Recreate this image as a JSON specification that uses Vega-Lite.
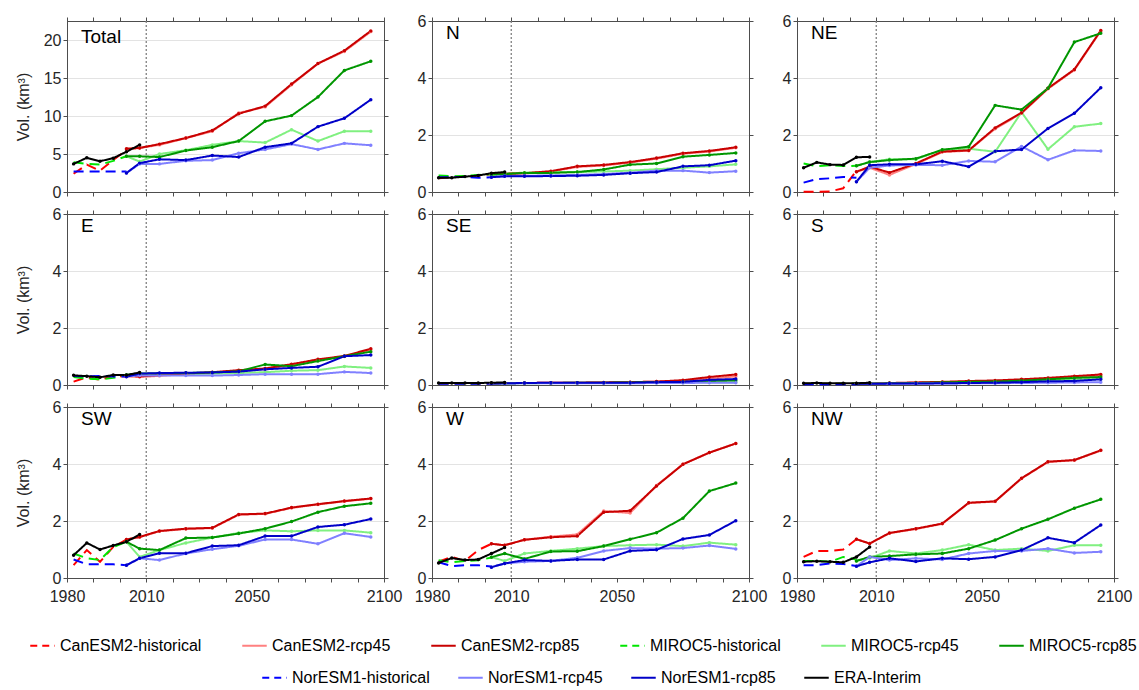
{
"$schema": "https://vega.github.io/schema/vega-lite/v6.json",
"padding": {"left": 14, "top": 12, "right": 5, "bottom": 5},
"bounds": "flush",
"columns": 3,
"spacing": {"row": 22, "column": 48},
"config": {
  "font": "Liberation Sans",
  "scale": {"zero": false},
  "view": {"stroke": "#4d4d4d"},
  "axis": {"labelFontSize": 16, "labelColor": "#262626", "domainColor": "#4d4d4d", "tickColor": "#4d4d4d", "tickSize": 4, "gridColor": "#e3e3e3", "titleFontSize": 16, "titleFontWeight": "normal", "titleColor": "#262626", "labelPadding": 2},
  "axisBottom": {"labelPadding": 6},
  "title": {"anchor": "start", "frame": "group", "offset": -30, "dx": 14, "fontSize": 19, "fontWeight": "normal", "color": "#000000"},
  "legend": {"title": null, "symbolType": "stroke", "symbolSize": 600, "symbolStrokeWidth": 2, "labelFontSize": 16, "labelColor": "#000000", "direction": "horizontal", "orient": "none"}
},
"datasets": {
"ref": [{"year": 2010}],
"Total": [
{"series":"CanESM2-historical","year":1982.5,"vol":2.4},{"series":"CanESM2-historical","year":1987.5,"vol":3.6},{"series":"CanESM2-historical","year":1992.5,"vol":2.8},{"series":"CanESM2-historical","year":1997.5,"vol":4.2},{"series":"CanESM2-historical","year":2002.5,"vol":5.5},
{"series":"MIROC5-historical","year":1982.5,"vol":3.9},{"series":"MIROC5-historical","year":1987.5,"vol":3.7},{"series":"MIROC5-historical","year":1992.5,"vol":3.6},{"series":"MIROC5-historical","year":1997.5,"vol":4.1},{"series":"MIROC5-historical","year":2002.5,"vol":4.7},
{"series":"NorESM1-historical","year":1982.5,"vol":2.7},{"series":"NorESM1-historical","year":1987.5,"vol":2.7},{"series":"NorESM1-historical","year":1992.5,"vol":2.7},{"series":"NorESM1-historical","year":1997.5,"vol":2.7},{"series":"NorESM1-historical","year":2002.5,"vol":2.7},
{"series":"CanESM2-rcp45","year":2002.5,"vol":5.6},{"series":"CanESM2-rcp45","year":2007.5,"vol":5.8},{"series":"CanESM2-rcp45","year":2015,"vol":6.2},{"series":"CanESM2-rcp45","year":2025,"vol":7.1},{"series":"CanESM2-rcp45","year":2035,"vol":8.0},{"series":"CanESM2-rcp45","year":2045,"vol":10.4},{"series":"CanESM2-rcp45","year":2055,"vol":11.2},{"series":"CanESM2-rcp45","year":2065,"vol":14.1},{"series":"CanESM2-rcp45","year":2075,"vol":16.9},{"series":"CanESM2-rcp45","year":2085,"vol":18.5},{"series":"CanESM2-rcp45","year":2095,"vol":21.1},
{"series":"MIROC5-rcp45","year":2002.5,"vol":4.7},{"series":"MIROC5-rcp45","year":2007.5,"vol":4.0},{"series":"MIROC5-rcp45","year":2015,"vol":5.0},{"series":"MIROC5-rcp45","year":2025,"vol":5.5},{"series":"MIROC5-rcp45","year":2035,"vol":6.2},{"series":"MIROC5-rcp45","year":2045,"vol":6.7},{"series":"MIROC5-rcp45","year":2055,"vol":6.5},{"series":"MIROC5-rcp45","year":2065,"vol":8.2},{"series":"MIROC5-rcp45","year":2075,"vol":6.7},{"series":"MIROC5-rcp45","year":2085,"vol":8.0},{"series":"MIROC5-rcp45","year":2095,"vol":8.0},
{"series":"NorESM1-rcp45","year":2002.5,"vol":2.5},{"series":"NorESM1-rcp45","year":2007.5,"vol":3.7},{"series":"NorESM1-rcp45","year":2015,"vol":3.7},{"series":"NorESM1-rcp45","year":2025,"vol":4.1},{"series":"NorESM1-rcp45","year":2035,"vol":4.2},{"series":"NorESM1-rcp45","year":2045,"vol":5.1},{"series":"NorESM1-rcp45","year":2055,"vol":5.6},{"series":"NorESM1-rcp45","year":2065,"vol":6.3},{"series":"NorESM1-rcp45","year":2075,"vol":5.6},{"series":"NorESM1-rcp45","year":2085,"vol":6.4},{"series":"NorESM1-rcp45","year":2095,"vol":6.15},
{"series":"CanESM2-rcp85","year":2002.5,"vol":5.7},{"series":"CanESM2-rcp85","year":2007.5,"vol":5.8},{"series":"CanESM2-rcp85","year":2015,"vol":6.3},{"series":"CanESM2-rcp85","year":2025,"vol":7.1},{"series":"CanESM2-rcp85","year":2035,"vol":8.1},{"series":"CanESM2-rcp85","year":2045,"vol":10.3},{"series":"CanESM2-rcp85","year":2055,"vol":11.3},{"series":"CanESM2-rcp85","year":2065,"vol":14.2},{"series":"CanESM2-rcp85","year":2075,"vol":16.9},{"series":"CanESM2-rcp85","year":2085,"vol":18.6},{"series":"CanESM2-rcp85","year":2095,"vol":21.2},
{"series":"MIROC5-rcp85","year":2002.5,"vol":4.7},{"series":"MIROC5-rcp85","year":2007.5,"vol":4.7},{"series":"MIROC5-rcp85","year":2015,"vol":4.6},{"series":"MIROC5-rcp85","year":2025,"vol":5.45},{"series":"MIROC5-rcp85","year":2035,"vol":5.9},{"series":"MIROC5-rcp85","year":2045,"vol":6.7},{"series":"MIROC5-rcp85","year":2055,"vol":9.3},{"series":"MIROC5-rcp85","year":2065,"vol":10.05},{"series":"MIROC5-rcp85","year":2075,"vol":12.5},{"series":"MIROC5-rcp85","year":2085,"vol":16.0},{"series":"MIROC5-rcp85","year":2095,"vol":17.2},
{"series":"NorESM1-rcp85","year":2002.5,"vol":2.5},{"series":"NorESM1-rcp85","year":2007.5,"vol":3.8},{"series":"NorESM1-rcp85","year":2015,"vol":4.3},{"series":"NorESM1-rcp85","year":2025,"vol":4.2},{"series":"NorESM1-rcp85","year":2035,"vol":4.8},{"series":"NorESM1-rcp85","year":2045,"vol":4.6},{"series":"NorESM1-rcp85","year":2055,"vol":5.9},{"series":"NorESM1-rcp85","year":2065,"vol":6.4},{"series":"NorESM1-rcp85","year":2075,"vol":8.6},{"series":"NorESM1-rcp85","year":2085,"vol":9.7},{"series":"NorESM1-rcp85","year":2095,"vol":12.15},
{"series":"ERA-Interim","year":1982.5,"vol":3.7},{"series":"ERA-Interim","year":1987.5,"vol":4.5},{"series":"ERA-Interim","year":1992.5,"vol":4.05},{"series":"ERA-Interim","year":1997.5,"vol":4.45},{"series":"ERA-Interim","year":2002.5,"vol":5.3},{"series":"ERA-Interim","year":2007.5,"vol":6.2}
],
"N": [
{"series":"CanESM2-historical","year":1982.5,"vol":0.48},{"series":"CanESM2-historical","year":1987.5,"vol":0.52},{"series":"CanESM2-historical","year":1992.5,"vol":0.55},{"series":"CanESM2-historical","year":1997.5,"vol":0.57},{"series":"CanESM2-historical","year":2002.5,"vol":0.62},
{"series":"MIROC5-historical","year":1982.5,"vol":0.58},{"series":"MIROC5-historical","year":1987.5,"vol":0.55},{"series":"MIROC5-historical","year":1992.5,"vol":0.56},{"series":"MIROC5-historical","year":1997.5,"vol":0.6},{"series":"MIROC5-historical","year":2002.5,"vol":0.62},
{"series":"NorESM1-historical","year":1982.5,"vol":0.52},{"series":"NorESM1-historical","year":1987.5,"vol":0.52},{"series":"NorESM1-historical","year":1992.5,"vol":0.53},{"series":"NorESM1-historical","year":1997.5,"vol":0.5},{"series":"NorESM1-historical","year":2002.5,"vol":0.52},
{"series":"CanESM2-rcp45","year":2002.5,"vol":0.62},{"series":"CanESM2-rcp45","year":2007.5,"vol":0.63},{"series":"CanESM2-rcp45","year":2015,"vol":0.65},{"series":"CanESM2-rcp45","year":2025,"vol":0.72},{"series":"CanESM2-rcp45","year":2035,"vol":0.88},{"series":"CanESM2-rcp45","year":2045,"vol":0.93},{"series":"CanESM2-rcp45","year":2055,"vol":1.03},{"series":"CanESM2-rcp45","year":2065,"vol":1.17},{"series":"CanESM2-rcp45","year":2075,"vol":1.34},{"series":"CanESM2-rcp45","year":2085,"vol":1.42},{"series":"CanESM2-rcp45","year":2095,"vol":1.55},
{"series":"MIROC5-rcp45","year":2002.5,"vol":0.6},{"series":"MIROC5-rcp45","year":2007.5,"vol":0.65},{"series":"MIROC5-rcp45","year":2015,"vol":0.68},{"series":"MIROC5-rcp45","year":2025,"vol":0.7},{"series":"MIROC5-rcp45","year":2035,"vol":0.7},{"series":"MIROC5-rcp45","year":2045,"vol":0.72},{"series":"MIROC5-rcp45","year":2055,"vol":0.75},{"series":"MIROC5-rcp45","year":2065,"vol":0.8},{"series":"MIROC5-rcp45","year":2075,"vol":0.85},{"series":"MIROC5-rcp45","year":2085,"vol":0.9},{"series":"MIROC5-rcp45","year":2095,"vol":0.97},
{"series":"NorESM1-rcp45","year":2002.5,"vol":0.52},{"series":"NorESM1-rcp45","year":2007.5,"vol":0.56},{"series":"NorESM1-rcp45","year":2015,"vol":0.57},{"series":"NorESM1-rcp45","year":2025,"vol":0.58},{"series":"NorESM1-rcp45","year":2035,"vol":0.6},{"series":"NorESM1-rcp45","year":2045,"vol":0.63},{"series":"NorESM1-rcp45","year":2055,"vol":0.68},{"series":"NorESM1-rcp45","year":2065,"vol":0.75},{"series":"NorESM1-rcp45","year":2075,"vol":0.75},{"series":"NorESM1-rcp45","year":2085,"vol":0.68},{"series":"NorESM1-rcp45","year":2095,"vol":0.73},
{"series":"CanESM2-rcp85","year":2002.5,"vol":0.64},{"series":"CanESM2-rcp85","year":2007.5,"vol":0.64},{"series":"CanESM2-rcp85","year":2015,"vol":0.66},{"series":"CanESM2-rcp85","year":2025,"vol":0.73},{"series":"CanESM2-rcp85","year":2035,"vol":0.9},{"series":"CanESM2-rcp85","year":2045,"vol":0.95},{"series":"CanESM2-rcp85","year":2055,"vol":1.05},{"series":"CanESM2-rcp85","year":2065,"vol":1.19},{"series":"CanESM2-rcp85","year":2075,"vol":1.36},{"series":"CanESM2-rcp85","year":2085,"vol":1.44},{"series":"CanESM2-rcp85","year":2095,"vol":1.57},
{"series":"MIROC5-rcp85","year":2002.5,"vol":0.61},{"series":"MIROC5-rcp85","year":2007.5,"vol":0.63},{"series":"MIROC5-rcp85","year":2015,"vol":0.67},{"series":"MIROC5-rcp85","year":2025,"vol":0.67},{"series":"MIROC5-rcp85","year":2035,"vol":0.7},{"series":"MIROC5-rcp85","year":2045,"vol":0.79},{"series":"MIROC5-rcp85","year":2055,"vol":0.96},{"series":"MIROC5-rcp85","year":2065,"vol":1.0},{"series":"MIROC5-rcp85","year":2075,"vol":1.24},{"series":"MIROC5-rcp85","year":2085,"vol":1.3},{"series":"MIROC5-rcp85","year":2095,"vol":1.37},
{"series":"NorESM1-rcp85","year":2002.5,"vol":0.52},{"series":"NorESM1-rcp85","year":2007.5,"vol":0.55},{"series":"NorESM1-rcp85","year":2015,"vol":0.55},{"series":"NorESM1-rcp85","year":2025,"vol":0.56},{"series":"NorESM1-rcp85","year":2035,"vol":0.57},{"series":"NorESM1-rcp85","year":2045,"vol":0.6},{"series":"NorESM1-rcp85","year":2055,"vol":0.66},{"series":"NorESM1-rcp85","year":2065,"vol":0.7},{"series":"NorESM1-rcp85","year":2075,"vol":0.9},{"series":"NorESM1-rcp85","year":2085,"vol":0.94},{"series":"NorESM1-rcp85","year":2095,"vol":1.1},
{"series":"ERA-Interim","year":1982.5,"vol":0.5},{"series":"ERA-Interim","year":1987.5,"vol":0.5},{"series":"ERA-Interim","year":1992.5,"vol":0.54},{"series":"ERA-Interim","year":1997.5,"vol":0.58},{"series":"ERA-Interim","year":2002.5,"vol":0.66},{"series":"ERA-Interim","year":2007.5,"vol":0.7}
],
"NE": [
{"series":"CanESM2-historical","year":1982.5,"vol":0.01},{"series":"CanESM2-historical","year":1987.5,"vol":0.01},{"series":"CanESM2-historical","year":1992.5,"vol":0.02},{"series":"CanESM2-historical","year":1997.5,"vol":0.13},{"series":"CanESM2-historical","year":2002.5,"vol":0.74},
{"series":"MIROC5-historical","year":1982.5,"vol":1.0},{"series":"MIROC5-historical","year":1987.5,"vol":0.91},{"series":"MIROC5-historical","year":1992.5,"vol":0.94},{"series":"MIROC5-historical","year":1997.5,"vol":0.91},{"series":"MIROC5-historical","year":2002.5,"vol":0.92},
{"series":"NorESM1-historical","year":1982.5,"vol":0.33},{"series":"NorESM1-historical","year":1987.5,"vol":0.45},{"series":"NorESM1-historical","year":1992.5,"vol":0.48},{"series":"NorESM1-historical","year":1997.5,"vol":0.53},{"series":"NorESM1-historical","year":2002.5,"vol":0.5},
{"series":"CanESM2-rcp45","year":2002.5,"vol":0.71},{"series":"CanESM2-rcp45","year":2007.5,"vol":0.85},{"series":"CanESM2-rcp45","year":2015,"vol":0.6},{"series":"CanESM2-rcp45","year":2025,"vol":0.98},{"series":"CanESM2-rcp45","year":2035,"vol":1.4},{"series":"CanESM2-rcp45","year":2045,"vol":1.45},{"series":"CanESM2-rcp45","year":2055,"vol":2.22},{"series":"CanESM2-rcp45","year":2065,"vol":2.76},{"series":"CanESM2-rcp45","year":2075,"vol":3.62},{"series":"CanESM2-rcp45","year":2085,"vol":4.28},{"series":"CanESM2-rcp45","year":2095,"vol":5.65},
{"series":"MIROC5-rcp45","year":2002.5,"vol":0.92},{"series":"MIROC5-rcp45","year":2007.5,"vol":1.05},{"series":"MIROC5-rcp45","year":2015,"vol":1.15},{"series":"MIROC5-rcp45","year":2025,"vol":1.15},{"series":"MIROC5-rcp45","year":2035,"vol":1.48},{"series":"MIROC5-rcp45","year":2045,"vol":1.52},{"series":"MIROC5-rcp45","year":2055,"vol":1.41},{"series":"MIROC5-rcp45","year":2065,"vol":2.8},{"series":"MIROC5-rcp45","year":2075,"vol":1.5},{"series":"MIROC5-rcp45","year":2085,"vol":2.29},{"series":"MIROC5-rcp45","year":2095,"vol":2.4},
{"series":"NorESM1-rcp45","year":2002.5,"vol":0.36},{"series":"NorESM1-rcp45","year":2007.5,"vol":0.85},{"series":"NorESM1-rcp45","year":2015,"vol":0.93},{"series":"NorESM1-rcp45","year":2025,"vol":0.95},{"series":"NorESM1-rcp45","year":2035,"vol":0.94},{"series":"NorESM1-rcp45","year":2045,"vol":1.09},{"series":"NorESM1-rcp45","year":2055,"vol":1.06},{"series":"NorESM1-rcp45","year":2065,"vol":1.6},{"series":"NorESM1-rcp45","year":2075,"vol":1.13},{"series":"NorESM1-rcp45","year":2085,"vol":1.46},{"series":"NorESM1-rcp45","year":2095,"vol":1.44},
{"series":"CanESM2-rcp85","year":2002.5,"vol":0.71},{"series":"CanESM2-rcp85","year":2007.5,"vol":0.89},{"series":"CanESM2-rcp85","year":2015,"vol":0.68},{"series":"CanESM2-rcp85","year":2025,"vol":1.0},{"series":"CanESM2-rcp85","year":2035,"vol":1.42},{"series":"CanESM2-rcp85","year":2045,"vol":1.46},{"series":"CanESM2-rcp85","year":2055,"vol":2.25},{"series":"CanESM2-rcp85","year":2065,"vol":2.78},{"series":"CanESM2-rcp85","year":2075,"vol":3.64},{"series":"CanESM2-rcp85","year":2085,"vol":4.3},{"series":"CanESM2-rcp85","year":2095,"vol":5.67},
{"series":"MIROC5-rcp85","year":2002.5,"vol":0.92},{"series":"MIROC5-rcp85","year":2007.5,"vol":1.05},{"series":"MIROC5-rcp85","year":2015,"vol":1.12},{"series":"MIROC5-rcp85","year":2025,"vol":1.17},{"series":"MIROC5-rcp85","year":2035,"vol":1.48},{"series":"MIROC5-rcp85","year":2045,"vol":1.59},{"series":"MIROC5-rcp85","year":2055,"vol":3.04},{"series":"MIROC5-rcp85","year":2065,"vol":2.89},{"series":"MIROC5-rcp85","year":2075,"vol":3.64},{"series":"MIROC5-rcp85","year":2085,"vol":5.26},{"series":"MIROC5-rcp85","year":2095,"vol":5.57},
{"series":"NorESM1-rcp85","year":2002.5,"vol":0.36},{"series":"NorESM1-rcp85","year":2007.5,"vol":0.94},{"series":"NorESM1-rcp85","year":2015,"vol":0.97},{"series":"NorESM1-rcp85","year":2025,"vol":0.97},{"series":"NorESM1-rcp85","year":2035,"vol":1.08},{"series":"NorESM1-rcp85","year":2045,"vol":0.89},{"series":"NorESM1-rcp85","year":2055,"vol":1.43},{"series":"NorESM1-rcp85","year":2065,"vol":1.49},{"series":"NorESM1-rcp85","year":2075,"vol":2.23},{"series":"NorESM1-rcp85","year":2085,"vol":2.76},{"series":"NorESM1-rcp85","year":2095,"vol":3.66},
{"series":"ERA-Interim","year":1982.5,"vol":0.85},{"series":"ERA-Interim","year":1987.5,"vol":1.04},{"series":"ERA-Interim","year":1992.5,"vol":0.96},{"series":"ERA-Interim","year":1997.5,"vol":0.95},{"series":"ERA-Interim","year":2002.5,"vol":1.22},{"series":"ERA-Interim","year":2007.5,"vol":1.23}
],
"E": [
{"series":"CanESM2-historical","year":1982.5,"vol":0.12},{"series":"CanESM2-historical","year":1987.5,"vol":0.27},{"series":"CanESM2-historical","year":1992.5,"vol":0.18},{"series":"CanESM2-historical","year":1997.5,"vol":0.32},{"series":"CanESM2-historical","year":2002.5,"vol":0.3},
{"series":"MIROC5-historical","year":1982.5,"vol":0.28},{"series":"MIROC5-historical","year":1987.5,"vol":0.22},{"series":"MIROC5-historical","year":1992.5,"vol":0.2},{"series":"MIROC5-historical","year":1997.5,"vol":0.25},{"series":"MIROC5-historical","year":2002.5,"vol":0.35},
{"series":"NorESM1-historical","year":1982.5,"vol":0.32},{"series":"NorESM1-historical","year":1987.5,"vol":0.3},{"series":"NorESM1-historical","year":1992.5,"vol":0.32},{"series":"NorESM1-historical","year":1997.5,"vol":0.3},{"series":"NorESM1-historical","year":2002.5,"vol":0.3},
{"series":"CanESM2-rcp45","year":2002.5,"vol":0.3},{"series":"CanESM2-rcp45","year":2007.5,"vol":0.28},{"series":"CanESM2-rcp45","year":2015,"vol":0.32},{"series":"CanESM2-rcp45","year":2025,"vol":0.38},{"series":"CanESM2-rcp45","year":2035,"vol":0.43},{"series":"CanESM2-rcp45","year":2045,"vol":0.5},{"series":"CanESM2-rcp45","year":2055,"vol":0.56},{"series":"CanESM2-rcp45","year":2065,"vol":0.7},{"series":"CanESM2-rcp45","year":2075,"vol":0.88},{"series":"CanESM2-rcp45","year":2085,"vol":1.0},{"series":"CanESM2-rcp45","year":2095,"vol":1.24},
{"series":"MIROC5-rcp45","year":2002.5,"vol":0.35},{"series":"MIROC5-rcp45","year":2007.5,"vol":0.38},{"series":"MIROC5-rcp45","year":2015,"vol":0.36},{"series":"MIROC5-rcp45","year":2025,"vol":0.38},{"series":"MIROC5-rcp45","year":2035,"vol":0.4},{"series":"MIROC5-rcp45","year":2045,"vol":0.42},{"series":"MIROC5-rcp45","year":2055,"vol":0.45},{"series":"MIROC5-rcp45","year":2065,"vol":0.5},{"series":"MIROC5-rcp45","year":2075,"vol":0.52},{"series":"MIROC5-rcp45","year":2085,"vol":0.65},{"series":"MIROC5-rcp45","year":2095,"vol":0.6},
{"series":"NorESM1-rcp45","year":2002.5,"vol":0.3},{"series":"NorESM1-rcp45","year":2007.5,"vol":0.33},{"series":"NorESM1-rcp45","year":2015,"vol":0.33},{"series":"NorESM1-rcp45","year":2025,"vol":0.33},{"series":"NorESM1-rcp45","year":2035,"vol":0.33},{"series":"NorESM1-rcp45","year":2045,"vol":0.35},{"series":"NorESM1-rcp45","year":2055,"vol":0.38},{"series":"NorESM1-rcp45","year":2065,"vol":0.38},{"series":"NorESM1-rcp45","year":2075,"vol":0.38},{"series":"NorESM1-rcp45","year":2085,"vol":0.46},{"series":"NorESM1-rcp45","year":2095,"vol":0.42},
{"series":"CanESM2-rcp85","year":2002.5,"vol":0.33},{"series":"CanESM2-rcp85","year":2007.5,"vol":0.3},{"series":"CanESM2-rcp85","year":2015,"vol":0.35},{"series":"CanESM2-rcp85","year":2025,"vol":0.4},{"series":"CanESM2-rcp85","year":2035,"vol":0.45},{"series":"CanESM2-rcp85","year":2045,"vol":0.52},{"series":"CanESM2-rcp85","year":2055,"vol":0.58},{"series":"CanESM2-rcp85","year":2065,"vol":0.73},{"series":"CanESM2-rcp85","year":2075,"vol":0.9},{"series":"CanESM2-rcp85","year":2085,"vol":1.02},{"series":"CanESM2-rcp85","year":2095,"vol":1.27},
{"series":"MIROC5-rcp85","year":2002.5,"vol":0.35},{"series":"MIROC5-rcp85","year":2007.5,"vol":0.4},{"series":"MIROC5-rcp85","year":2015,"vol":0.4},{"series":"MIROC5-rcp85","year":2025,"vol":0.42},{"series":"MIROC5-rcp85","year":2035,"vol":0.44},{"series":"MIROC5-rcp85","year":2045,"vol":0.48},{"series":"MIROC5-rcp85","year":2055,"vol":0.72},{"series":"MIROC5-rcp85","year":2065,"vol":0.66},{"series":"MIROC5-rcp85","year":2075,"vol":0.84},{"series":"MIROC5-rcp85","year":2085,"vol":1.01},{"series":"MIROC5-rcp85","year":2095,"vol":1.17},
{"series":"NorESM1-rcp85","year":2002.5,"vol":0.29},{"series":"NorESM1-rcp85","year":2007.5,"vol":0.4},{"series":"NorESM1-rcp85","year":2015,"vol":0.42},{"series":"NorESM1-rcp85","year":2025,"vol":0.43},{"series":"NorESM1-rcp85","year":2035,"vol":0.44},{"series":"NorESM1-rcp85","year":2045,"vol":0.47},{"series":"NorESM1-rcp85","year":2055,"vol":0.55},{"series":"NorESM1-rcp85","year":2065,"vol":0.6},{"series":"NorESM1-rcp85","year":2075,"vol":0.64},{"series":"NorESM1-rcp85","year":2085,"vol":1.01},{"series":"NorESM1-rcp85","year":2095,"vol":1.05},
{"series":"ERA-Interim","year":1982.5,"vol":0.34},{"series":"ERA-Interim","year":1987.5,"vol":0.31},{"series":"ERA-Interim","year":1992.5,"vol":0.27},{"series":"ERA-Interim","year":1997.5,"vol":0.35},{"series":"ERA-Interim","year":2002.5,"vol":0.35},{"series":"ERA-Interim","year":2007.5,"vol":0.44}
],
"SE": [
{"series":"CanESM2-historical","year":1982.5,"vol":0.05},{"series":"CanESM2-historical","year":1987.5,"vol":0.05},{"series":"CanESM2-historical","year":1992.5,"vol":0.05},{"series":"CanESM2-historical","year":1997.5,"vol":0.05},{"series":"CanESM2-historical","year":2002.5,"vol":0.06},
{"series":"MIROC5-historical","year":1982.5,"vol":0.06},{"series":"MIROC5-historical","year":1987.5,"vol":0.06},{"series":"MIROC5-historical","year":1992.5,"vol":0.05},{"series":"MIROC5-historical","year":1997.5,"vol":0.06},{"series":"MIROC5-historical","year":2002.5,"vol":0.06},
{"series":"NorESM1-historical","year":1982.5,"vol":0.04},{"series":"NorESM1-historical","year":1987.5,"vol":0.04},{"series":"NorESM1-historical","year":1992.5,"vol":0.04},{"series":"NorESM1-historical","year":1997.5,"vol":0.04},{"series":"NorESM1-historical","year":2002.5,"vol":0.05},
{"series":"CanESM2-rcp45","year":2002.5,"vol":0.06},{"series":"CanESM2-rcp45","year":2007.5,"vol":0.07},{"series":"CanESM2-rcp45","year":2015,"vol":0.07},{"series":"CanESM2-rcp45","year":2025,"vol":0.08},{"series":"CanESM2-rcp45","year":2035,"vol":0.08},{"series":"CanESM2-rcp45","year":2045,"vol":0.09},{"series":"CanESM2-rcp45","year":2055,"vol":0.1},{"series":"CanESM2-rcp45","year":2065,"vol":0.12},{"series":"CanESM2-rcp45","year":2075,"vol":0.15},{"series":"CanESM2-rcp45","year":2085,"vol":0.22},{"series":"CanESM2-rcp45","year":2095,"vol":0.3},
{"series":"MIROC5-rcp45","year":2002.5,"vol":0.06},{"series":"MIROC5-rcp45","year":2007.5,"vol":0.06},{"series":"MIROC5-rcp45","year":2015,"vol":0.06},{"series":"MIROC5-rcp45","year":2025,"vol":0.07},{"series":"MIROC5-rcp45","year":2035,"vol":0.07},{"series":"MIROC5-rcp45","year":2045,"vol":0.07},{"series":"MIROC5-rcp45","year":2055,"vol":0.08},{"series":"MIROC5-rcp45","year":2065,"vol":0.08},{"series":"MIROC5-rcp45","year":2075,"vol":0.09},{"series":"MIROC5-rcp45","year":2085,"vol":0.1},{"series":"MIROC5-rcp45","year":2095,"vol":0.1},
{"series":"NorESM1-rcp45","year":2002.5,"vol":0.05},{"series":"NorESM1-rcp45","year":2007.5,"vol":0.05},{"series":"NorESM1-rcp45","year":2015,"vol":0.06},{"series":"NorESM1-rcp45","year":2025,"vol":0.06},{"series":"NorESM1-rcp45","year":2035,"vol":0.06},{"series":"NorESM1-rcp45","year":2045,"vol":0.06},{"series":"NorESM1-rcp45","year":2055,"vol":0.06},{"series":"NorESM1-rcp45","year":2065,"vol":0.07},{"series":"NorESM1-rcp45","year":2075,"vol":0.07},{"series":"NorESM1-rcp45","year":2085,"vol":0.08},{"series":"NorESM1-rcp45","year":2095,"vol":0.08},
{"series":"CanESM2-rcp85","year":2002.5,"vol":0.06},{"series":"CanESM2-rcp85","year":2007.5,"vol":0.07},{"series":"CanESM2-rcp85","year":2015,"vol":0.07},{"series":"CanESM2-rcp85","year":2025,"vol":0.08},{"series":"CanESM2-rcp85","year":2035,"vol":0.08},{"series":"CanESM2-rcp85","year":2045,"vol":0.09},{"series":"CanESM2-rcp85","year":2055,"vol":0.1},{"series":"CanESM2-rcp85","year":2065,"vol":0.12},{"series":"CanESM2-rcp85","year":2075,"vol":0.17},{"series":"CanESM2-rcp85","year":2085,"vol":0.28},{"series":"CanESM2-rcp85","year":2095,"vol":0.37},
{"series":"MIROC5-rcp85","year":2002.5,"vol":0.06},{"series":"MIROC5-rcp85","year":2007.5,"vol":0.06},{"series":"MIROC5-rcp85","year":2015,"vol":0.07},{"series":"MIROC5-rcp85","year":2025,"vol":0.07},{"series":"MIROC5-rcp85","year":2035,"vol":0.08},{"series":"MIROC5-rcp85","year":2045,"vol":0.08},{"series":"MIROC5-rcp85","year":2055,"vol":0.09},{"series":"MIROC5-rcp85","year":2065,"vol":0.1},{"series":"MIROC5-rcp85","year":2075,"vol":0.11},{"series":"MIROC5-rcp85","year":2085,"vol":0.14},{"series":"MIROC5-rcp85","year":2095,"vol":0.16},
{"series":"NorESM1-rcp85","year":2002.5,"vol":0.05},{"series":"NorESM1-rcp85","year":2007.5,"vol":0.06},{"series":"NorESM1-rcp85","year":2015,"vol":0.07},{"series":"NorESM1-rcp85","year":2025,"vol":0.08},{"series":"NorESM1-rcp85","year":2035,"vol":0.08},{"series":"NorESM1-rcp85","year":2045,"vol":0.08},{"series":"NorESM1-rcp85","year":2055,"vol":0.08},{"series":"NorESM1-rcp85","year":2065,"vol":0.1},{"series":"NorESM1-rcp85","year":2075,"vol":0.11},{"series":"NorESM1-rcp85","year":2085,"vol":0.18},{"series":"NorESM1-rcp85","year":2095,"vol":0.21},
{"series":"ERA-Interim","year":1982.5,"vol":0.07},{"series":"ERA-Interim","year":1987.5,"vol":0.07},{"series":"ERA-Interim","year":1992.5,"vol":0.07},{"series":"ERA-Interim","year":1997.5,"vol":0.07},{"series":"ERA-Interim","year":2002.5,"vol":0.08},{"series":"ERA-Interim","year":2007.5,"vol":0.09}
],
"S": [
{"series":"CanESM2-historical","year":1982.5,"vol":0.04},{"series":"CanESM2-historical","year":1987.5,"vol":0.04},{"series":"CanESM2-historical","year":1992.5,"vol":0.04},{"series":"CanESM2-historical","year":1997.5,"vol":0.04},{"series":"CanESM2-historical","year":2002.5,"vol":0.05},
{"series":"MIROC5-historical","year":1982.5,"vol":0.04},{"series":"MIROC5-historical","year":1987.5,"vol":0.04},{"series":"MIROC5-historical","year":1992.5,"vol":0.04},{"series":"MIROC5-historical","year":1997.5,"vol":0.05},{"series":"MIROC5-historical","year":2002.5,"vol":0.05},
{"series":"NorESM1-historical","year":1982.5,"vol":0.03},{"series":"NorESM1-historical","year":1987.5,"vol":0.03},{"series":"NorESM1-historical","year":1992.5,"vol":0.03},{"series":"NorESM1-historical","year":1997.5,"vol":0.03},{"series":"NorESM1-historical","year":2002.5,"vol":0.03},
{"series":"CanESM2-rcp45","year":2002.5,"vol":0.05},{"series":"CanESM2-rcp45","year":2007.5,"vol":0.05},{"series":"CanESM2-rcp45","year":2015,"vol":0.06},{"series":"CanESM2-rcp45","year":2025,"vol":0.08},{"series":"CanESM2-rcp45","year":2035,"vol":0.1},{"series":"CanESM2-rcp45","year":2045,"vol":0.12},{"series":"CanESM2-rcp45","year":2055,"vol":0.14},{"series":"CanESM2-rcp45","year":2065,"vol":0.18},{"series":"CanESM2-rcp45","year":2075,"vol":0.22},{"series":"CanESM2-rcp45","year":2085,"vol":0.27},{"series":"CanESM2-rcp45","year":2095,"vol":0.33},
{"series":"MIROC5-rcp45","year":2002.5,"vol":0.05},{"series":"MIROC5-rcp45","year":2007.5,"vol":0.05},{"series":"MIROC5-rcp45","year":2015,"vol":0.06},{"series":"MIROC5-rcp45","year":2025,"vol":0.07},{"series":"MIROC5-rcp45","year":2035,"vol":0.08},{"series":"MIROC5-rcp45","year":2045,"vol":0.1},{"series":"MIROC5-rcp45","year":2055,"vol":0.12},{"series":"MIROC5-rcp45","year":2065,"vol":0.14},{"series":"MIROC5-rcp45","year":2075,"vol":0.17},{"series":"MIROC5-rcp45","year":2085,"vol":0.19},{"series":"MIROC5-rcp45","year":2095,"vol":0.21},
{"series":"NorESM1-rcp45","year":2002.5,"vol":0.04},{"series":"NorESM1-rcp45","year":2007.5,"vol":0.04},{"series":"NorESM1-rcp45","year":2015,"vol":0.04},{"series":"NorESM1-rcp45","year":2025,"vol":0.05},{"series":"NorESM1-rcp45","year":2035,"vol":0.05},{"series":"NorESM1-rcp45","year":2045,"vol":0.06},{"series":"NorESM1-rcp45","year":2055,"vol":0.06},{"series":"NorESM1-rcp45","year":2065,"vol":0.07},{"series":"NorESM1-rcp45","year":2075,"vol":0.08},{"series":"NorESM1-rcp45","year":2085,"vol":0.09},{"series":"NorESM1-rcp45","year":2095,"vol":0.1},
{"series":"CanESM2-rcp85","year":2002.5,"vol":0.05},{"series":"CanESM2-rcp85","year":2007.5,"vol":0.05},{"series":"CanESM2-rcp85","year":2015,"vol":0.07},{"series":"CanESM2-rcp85","year":2025,"vol":0.09},{"series":"CanESM2-rcp85","year":2035,"vol":0.11},{"series":"CanESM2-rcp85","year":2045,"vol":0.14},{"series":"CanESM2-rcp85","year":2055,"vol":0.16},{"series":"CanESM2-rcp85","year":2065,"vol":0.2},{"series":"CanESM2-rcp85","year":2075,"vol":0.25},{"series":"CanESM2-rcp85","year":2085,"vol":0.31},{"series":"CanESM2-rcp85","year":2095,"vol":0.37},
{"series":"MIROC5-rcp85","year":2002.5,"vol":0.05},{"series":"MIROC5-rcp85","year":2007.5,"vol":0.05},{"series":"MIROC5-rcp85","year":2015,"vol":0.06},{"series":"MIROC5-rcp85","year":2025,"vol":0.07},{"series":"MIROC5-rcp85","year":2035,"vol":0.09},{"series":"MIROC5-rcp85","year":2045,"vol":0.11},{"series":"MIROC5-rcp85","year":2055,"vol":0.12},{"series":"MIROC5-rcp85","year":2065,"vol":0.15},{"series":"MIROC5-rcp85","year":2075,"vol":0.2},{"series":"MIROC5-rcp85","year":2085,"vol":0.25},{"series":"MIROC5-rcp85","year":2095,"vol":0.28},
{"series":"NorESM1-rcp85","year":2002.5,"vol":0.04},{"series":"NorESM1-rcp85","year":2007.5,"vol":0.04},{"series":"NorESM1-rcp85","year":2015,"vol":0.05},{"series":"NorESM1-rcp85","year":2025,"vol":0.05},{"series":"NorESM1-rcp85","year":2035,"vol":0.06},{"series":"NorESM1-rcp85","year":2045,"vol":0.07},{"series":"NorESM1-rcp85","year":2055,"vol":0.08},{"series":"NorESM1-rcp85","year":2065,"vol":0.1},{"series":"NorESM1-rcp85","year":2075,"vol":0.13},{"series":"NorESM1-rcp85","year":2085,"vol":0.14},{"series":"NorESM1-rcp85","year":2095,"vol":0.2},
{"series":"ERA-Interim","year":1982.5,"vol":0.06},{"series":"ERA-Interim","year":1987.5,"vol":0.07},{"series":"ERA-Interim","year":1992.5,"vol":0.06},{"series":"ERA-Interim","year":1997.5,"vol":0.06},{"series":"ERA-Interim","year":2002.5,"vol":0.06},{"series":"ERA-Interim","year":2007.5,"vol":0.08}
],
"SW": [
{"series":"CanESM2-historical","year":1982.5,"vol":0.45},{"series":"CanESM2-historical","year":1987.5,"vol":0.98},{"series":"CanESM2-historical","year":1992.5,"vol":0.57},{"series":"CanESM2-historical","year":1997.5,"vol":1.09},{"series":"CanESM2-historical","year":2002.5,"vol":1.35},
{"series":"MIROC5-historical","year":1982.5,"vol":0.86},{"series":"MIROC5-historical","year":1987.5,"vol":0.69},{"series":"MIROC5-historical","year":1992.5,"vol":0.63},{"series":"MIROC5-historical","year":1997.5,"vol":1.09},{"series":"MIROC5-historical","year":2002.5,"vol":1.27},
{"series":"NorESM1-historical","year":1982.5,"vol":0.65},{"series":"NorESM1-historical","year":1987.5,"vol":0.48},{"series":"NorESM1-historical","year":1992.5,"vol":0.48},{"series":"NorESM1-historical","year":1997.5,"vol":0.48},{"series":"NorESM1-historical","year":2002.5,"vol":0.45},
{"series":"CanESM2-rcp45","year":2002.5,"vol":1.35},{"series":"CanESM2-rcp45","year":2007.5,"vol":1.44},{"series":"CanESM2-rcp45","year":2015,"vol":1.64},{"series":"CanESM2-rcp45","year":2025,"vol":1.72},{"series":"CanESM2-rcp45","year":2035,"vol":1.75},{"series":"CanESM2-rcp45","year":2045,"vol":2.22},{"series":"CanESM2-rcp45","year":2055,"vol":2.25},{"series":"CanESM2-rcp45","year":2065,"vol":2.46},{"series":"CanESM2-rcp45","year":2075,"vol":2.58},{"series":"CanESM2-rcp45","year":2085,"vol":2.69},{"series":"CanESM2-rcp45","year":2095,"vol":2.78},
{"series":"MIROC5-rcp45","year":2002.5,"vol":1.27},{"series":"MIROC5-rcp45","year":2007.5,"vol":0.74},{"series":"MIROC5-rcp45","year":2015,"vol":0.98},{"series":"MIROC5-rcp45","year":2025,"vol":1.23},{"series":"MIROC5-rcp45","year":2035,"vol":1.42},{"series":"MIROC5-rcp45","year":2045,"vol":1.58},{"series":"MIROC5-rcp45","year":2055,"vol":1.67},{"series":"MIROC5-rcp45","year":2065,"vol":1.64},{"series":"MIROC5-rcp45","year":2075,"vol":1.67},{"series":"MIROC5-rcp45","year":2085,"vol":1.67},{"series":"MIROC5-rcp45","year":2095,"vol":1.59},
{"series":"NorESM1-rcp45","year":2002.5,"vol":0.45},{"series":"NorESM1-rcp45","year":2007.5,"vol":0.69},{"series":"NorESM1-rcp45","year":2015,"vol":0.63},{"series":"NorESM1-rcp45","year":2025,"vol":0.86},{"series":"NorESM1-rcp45","year":2035,"vol":1.01},{"series":"NorESM1-rcp45","year":2045,"vol":1.13},{"series":"NorESM1-rcp45","year":2055,"vol":1.35},{"series":"NorESM1-rcp45","year":2065,"vol":1.35},{"series":"NorESM1-rcp45","year":2075,"vol":1.2},{"series":"NorESM1-rcp45","year":2085,"vol":1.57},{"series":"NorESM1-rcp45","year":2095,"vol":1.44},
{"series":"CanESM2-rcp85","year":2002.5,"vol":1.35},{"series":"CanESM2-rcp85","year":2007.5,"vol":1.44},{"series":"CanESM2-rcp85","year":2015,"vol":1.65},{"series":"CanESM2-rcp85","year":2025,"vol":1.73},{"series":"CanESM2-rcp85","year":2035,"vol":1.76},{"series":"CanESM2-rcp85","year":2045,"vol":2.23},{"series":"CanESM2-rcp85","year":2055,"vol":2.26},{"series":"CanESM2-rcp85","year":2065,"vol":2.47},{"series":"CanESM2-rcp85","year":2075,"vol":2.59},{"series":"CanESM2-rcp85","year":2085,"vol":2.7},{"series":"CanESM2-rcp85","year":2095,"vol":2.79},
{"series":"MIROC5-rcp85","year":2002.5,"vol":1.27},{"series":"MIROC5-rcp85","year":2007.5,"vol":1.03},{"series":"MIROC5-rcp85","year":2015,"vol":0.98},{"series":"MIROC5-rcp85","year":2025,"vol":1.4},{"series":"MIROC5-rcp85","year":2035,"vol":1.42},{"series":"MIROC5-rcp85","year":2045,"vol":1.56},{"series":"MIROC5-rcp85","year":2055,"vol":1.73},{"series":"MIROC5-rcp85","year":2065,"vol":1.98},{"series":"MIROC5-rcp85","year":2075,"vol":2.31},{"series":"MIROC5-rcp85","year":2085,"vol":2.52},{"series":"MIROC5-rcp85","year":2095,"vol":2.62},
{"series":"NorESM1-rcp85","year":2002.5,"vol":0.45},{"series":"NorESM1-rcp85","year":2007.5,"vol":0.69},{"series":"NorESM1-rcp85","year":2015,"vol":0.87},{"series":"NorESM1-rcp85","year":2025,"vol":0.87},{"series":"NorESM1-rcp85","year":2035,"vol":1.12},{"series":"NorESM1-rcp85","year":2045,"vol":1.15},{"series":"NorESM1-rcp85","year":2055,"vol":1.47},{"series":"NorESM1-rcp85","year":2065,"vol":1.47},{"series":"NorESM1-rcp85","year":2075,"vol":1.79},{"series":"NorESM1-rcp85","year":2085,"vol":1.87},{"series":"NorESM1-rcp85","year":2095,"vol":2.07},
{"series":"ERA-Interim","year":1982.5,"vol":0.8},{"series":"ERA-Interim","year":1987.5,"vol":1.23},{"series":"ERA-Interim","year":1992.5,"vol":1.0},{"series":"ERA-Interim","year":1997.5,"vol":1.14},{"series":"ERA-Interim","year":2002.5,"vol":1.27},{"series":"ERA-Interim","year":2007.5,"vol":1.53}
],
"W": [
{"series":"CanESM2-historical","year":1982.5,"vol":0.57},{"series":"CanESM2-historical","year":1987.5,"vol":0.74},{"series":"CanESM2-historical","year":1992.5,"vol":0.6},{"series":"CanESM2-historical","year":1997.5,"vol":0.98},{"series":"CanESM2-historical","year":2002.5,"vol":1.2},
{"series":"MIROC5-historical","year":1982.5,"vol":0.62},{"series":"MIROC5-historical","year":1987.5,"vol":0.55},{"series":"MIROC5-historical","year":1992.5,"vol":0.6},{"series":"MIROC5-historical","year":1997.5,"vol":0.62},{"series":"MIROC5-historical","year":2002.5,"vol":0.72},
{"series":"NorESM1-historical","year":1982.5,"vol":0.55},{"series":"NorESM1-historical","year":1987.5,"vol":0.42},{"series":"NorESM1-historical","year":1992.5,"vol":0.45},{"series":"NorESM1-historical","year":1997.5,"vol":0.45},{"series":"NorESM1-historical","year":2002.5,"vol":0.4},
{"series":"CanESM2-rcp45","year":2002.5,"vol":1.2},{"series":"CanESM2-rcp45","year":2007.5,"vol":1.15},{"series":"CanESM2-rcp45","year":2015,"vol":1.34},{"series":"CanESM2-rcp45","year":2025,"vol":1.45},{"series":"CanESM2-rcp45","year":2035,"vol":1.53},{"series":"CanESM2-rcp45","year":2045,"vol":2.35},{"series":"CanESM2-rcp45","year":2055,"vol":2.28},{"series":"CanESM2-rcp45","year":2065,"vol":3.25},{"series":"CanESM2-rcp45","year":2075,"vol":3.99},{"series":"CanESM2-rcp45","year":2085,"vol":4.4},{"series":"CanESM2-rcp45","year":2095,"vol":4.72},
{"series":"MIROC5-rcp45","year":2002.5,"vol":0.73},{"series":"MIROC5-rcp45","year":2007.5,"vol":0.6},{"series":"MIROC5-rcp45","year":2015,"vol":0.86},{"series":"MIROC5-rcp45","year":2025,"vol":0.95},{"series":"MIROC5-rcp45","year":2035,"vol":1.03},{"series":"MIROC5-rcp45","year":2045,"vol":1.12},{"series":"MIROC5-rcp45","year":2055,"vol":1.15},{"series":"MIROC5-rcp45","year":2065,"vol":1.17},{"series":"MIROC5-rcp45","year":2075,"vol":1.12},{"series":"MIROC5-rcp45","year":2085,"vol":1.24},{"series":"MIROC5-rcp45","year":2095,"vol":1.17},
{"series":"NorESM1-rcp45","year":2002.5,"vol":0.38},{"series":"NorESM1-rcp45","year":2007.5,"vol":0.51},{"series":"NorESM1-rcp45","year":2015,"vol":0.57},{"series":"NorESM1-rcp45","year":2025,"vol":0.6},{"series":"NorESM1-rcp45","year":2035,"vol":0.71},{"series":"NorESM1-rcp45","year":2045,"vol":0.95},{"series":"NorESM1-rcp45","year":2055,"vol":1.05},{"series":"NorESM1-rcp45","year":2065,"vol":1.03},{"series":"NorESM1-rcp45","year":2075,"vol":1.05},{"series":"NorESM1-rcp45","year":2085,"vol":1.14},{"series":"NorESM1-rcp45","year":2095,"vol":1.02},
{"series":"CanESM2-rcp85","year":2002.5,"vol":1.2},{"series":"CanESM2-rcp85","year":2007.5,"vol":1.15},{"series":"CanESM2-rcp85","year":2015,"vol":1.34},{"series":"CanESM2-rcp85","year":2025,"vol":1.43},{"series":"CanESM2-rcp85","year":2035,"vol":1.47},{"series":"CanESM2-rcp85","year":2045,"vol":2.31},{"series":"CanESM2-rcp85","year":2055,"vol":2.36},{"series":"CanESM2-rcp85","year":2065,"vol":3.23},{"series":"CanESM2-rcp85","year":2075,"vol":3.99},{"series":"CanESM2-rcp85","year":2085,"vol":4.4},{"series":"CanESM2-rcp85","year":2095,"vol":4.72},
{"series":"MIROC5-rcp85","year":2002.5,"vol":0.73},{"series":"MIROC5-rcp85","year":2007.5,"vol":0.86},{"series":"MIROC5-rcp85","year":2015,"vol":0.67},{"series":"MIROC5-rcp85","year":2025,"vol":0.93},{"series":"MIROC5-rcp85","year":2035,"vol":0.94},{"series":"MIROC5-rcp85","year":2045,"vol":1.12},{"series":"MIROC5-rcp85","year":2055,"vol":1.36},{"series":"MIROC5-rcp85","year":2065,"vol":1.59},{"series":"MIROC5-rcp85","year":2075,"vol":2.1},{"series":"MIROC5-rcp85","year":2085,"vol":3.05},{"series":"MIROC5-rcp85","year":2095,"vol":3.33},
{"series":"NorESM1-rcp85","year":2002.5,"vol":0.38},{"series":"NorESM1-rcp85","year":2007.5,"vol":0.51},{"series":"NorESM1-rcp85","year":2015,"vol":0.63},{"series":"NorESM1-rcp85","year":2025,"vol":0.6},{"series":"NorESM1-rcp85","year":2035,"vol":0.65},{"series":"NorESM1-rcp85","year":2045,"vol":0.65},{"series":"NorESM1-rcp85","year":2055,"vol":0.95},{"series":"NorESM1-rcp85","year":2065,"vol":0.99},{"series":"NorESM1-rcp85","year":2075,"vol":1.37},{"series":"NorESM1-rcp85","year":2085,"vol":1.51},{"series":"NorESM1-rcp85","year":2095,"vol":2.01},
{"series":"ERA-Interim","year":1982.5,"vol":0.53},{"series":"ERA-Interim","year":1987.5,"vol":0.7},{"series":"ERA-Interim","year":1992.5,"vol":0.63},{"series":"ERA-Interim","year":1997.5,"vol":0.65},{"series":"ERA-Interim","year":2002.5,"vol":0.86},{"series":"ERA-Interim","year":2007.5,"vol":1.07}
],
"NW": [
{"series":"CanESM2-historical","year":1982.5,"vol":0.74},{"series":"CanESM2-historical","year":1987.5,"vol":0.95},{"series":"CanESM2-historical","year":1992.5,"vol":0.95},{"series":"CanESM2-historical","year":1997.5,"vol":1.0},{"series":"CanESM2-historical","year":2002.5,"vol":1.36},
{"series":"MIROC5-historical","year":1982.5,"vol":0.6},{"series":"MIROC5-historical","year":1987.5,"vol":0.6},{"series":"MIROC5-historical","year":1992.5,"vol":0.57},{"series":"MIROC5-historical","year":1997.5,"vol":0.74},{"series":"MIROC5-historical","year":2002.5,"vol":0.65},
{"series":"NorESM1-historical","year":1982.5,"vol":0.45},{"series":"NorESM1-historical","year":1987.5,"vol":0.45},{"series":"NorESM1-historical","year":1992.5,"vol":0.51},{"series":"NorESM1-historical","year":1997.5,"vol":0.49},{"series":"NorESM1-historical","year":2002.5,"vol":0.42},
{"series":"CanESM2-rcp45","year":2002.5,"vol":1.36},{"series":"CanESM2-rcp45","year":2007.5,"vol":1.21},{"series":"CanESM2-rcp45","year":2015,"vol":1.57},{"series":"CanESM2-rcp45","year":2025,"vol":1.72},{"series":"CanESM2-rcp45","year":2035,"vol":1.9},{"series":"CanESM2-rcp45","year":2045,"vol":2.63},{"series":"CanESM2-rcp45","year":2055,"vol":2.68},{"series":"CanESM2-rcp45","year":2065,"vol":3.49},{"series":"CanESM2-rcp45","year":2075,"vol":4.07},{"series":"CanESM2-rcp45","year":2085,"vol":4.13},{"series":"CanESM2-rcp45","year":2095,"vol":4.47},
{"series":"MIROC5-rcp45","year":2002.5,"vol":0.6},{"series":"MIROC5-rcp45","year":2007.5,"vol":0.7},{"series":"MIROC5-rcp45","year":2015,"vol":0.95},{"series":"MIROC5-rcp45","year":2025,"vol":0.86},{"series":"MIROC5-rcp45","year":2035,"vol":0.98},{"series":"MIROC5-rcp45","year":2045,"vol":1.17},{"series":"MIROC5-rcp45","year":2055,"vol":0.98},{"series":"MIROC5-rcp45","year":2065,"vol":1.03},{"series":"MIROC5-rcp45","year":2075,"vol":0.95},{"series":"MIROC5-rcp45","year":2085,"vol":1.15},{"series":"MIROC5-rcp45","year":2095,"vol":1.15},
{"series":"NorESM1-rcp45","year":2002.5,"vol":0.41},{"series":"NorESM1-rcp45","year":2007.5,"vol":0.74},{"series":"NorESM1-rcp45","year":2015,"vol":0.63},{"series":"NorESM1-rcp45","year":2025,"vol":0.69},{"series":"NorESM1-rcp45","year":2035,"vol":0.65},{"series":"NorESM1-rcp45","year":2045,"vol":0.86},{"series":"NorESM1-rcp45","year":2055,"vol":0.95},{"series":"NorESM1-rcp45","year":2065,"vol":0.95},{"series":"NorESM1-rcp45","year":2075,"vol":1.03},{"series":"NorESM1-rcp45","year":2085,"vol":0.88},{"series":"NorESM1-rcp45","year":2095,"vol":0.92},
{"series":"CanESM2-rcp85","year":2002.5,"vol":1.36},{"series":"CanESM2-rcp85","year":2007.5,"vol":1.21},{"series":"CanESM2-rcp85","year":2015,"vol":1.58},{"series":"CanESM2-rcp85","year":2025,"vol":1.73},{"series":"CanESM2-rcp85","year":2035,"vol":1.91},{"series":"CanESM2-rcp85","year":2045,"vol":2.64},{"series":"CanESM2-rcp85","year":2055,"vol":2.69},{"series":"CanESM2-rcp85","year":2065,"vol":3.5},{"series":"CanESM2-rcp85","year":2075,"vol":4.08},{"series":"CanESM2-rcp85","year":2085,"vol":4.14},{"series":"CanESM2-rcp85","year":2095,"vol":4.48},
{"series":"MIROC5-rcp85","year":2002.5,"vol":0.6},{"series":"MIROC5-rcp85","year":2007.5,"vol":0.74},{"series":"MIROC5-rcp85","year":2015,"vol":0.77},{"series":"MIROC5-rcp85","year":2025,"vol":0.83},{"series":"MIROC5-rcp85","year":2035,"vol":0.86},{"series":"MIROC5-rcp85","year":2045,"vol":1.03},{"series":"MIROC5-rcp85","year":2055,"vol":1.33},{"series":"MIROC5-rcp85","year":2065,"vol":1.73},{"series":"MIROC5-rcp85","year":2075,"vol":2.06},{"series":"MIROC5-rcp85","year":2085,"vol":2.45},{"series":"MIROC5-rcp85","year":2095,"vol":2.76},
{"series":"NorESM1-rcp85","year":2002.5,"vol":0.41},{"series":"NorESM1-rcp85","year":2007.5,"vol":0.55},{"series":"NorESM1-rcp85","year":2015,"vol":0.69},{"series":"NorESM1-rcp85","year":2025,"vol":0.58},{"series":"NorESM1-rcp85","year":2035,"vol":0.69},{"series":"NorESM1-rcp85","year":2045,"vol":0.66},{"series":"NorESM1-rcp85","year":2055,"vol":0.74},{"series":"NorESM1-rcp85","year":2065,"vol":0.98},{"series":"NorESM1-rcp85","year":2075,"vol":1.41},{"series":"NorESM1-rcp85","year":2085,"vol":1.24},{"series":"NorESM1-rcp85","year":2095,"vol":1.86},
{"series":"ERA-Interim","year":1982.5,"vol":0.57},{"series":"ERA-Interim","year":1987.5,"vol":0.59},{"series":"ERA-Interim","year":1992.5,"vol":0.57},{"series":"ERA-Interim","year":1997.5,"vol":0.55},{"series":"ERA-Interim","year":2002.5,"vol":0.74},{"series":"ERA-Interim","year":2007.5,"vol":1.09}
]
},
"concat": [
{"width":317,"height":171,"data":{"name":"Total"},"title":{"text":"Total"},"resolve":{"axis":{"x":"independent","y":"independent"}},"layer":[
 {"data":{"name":"ref"},"mark":{"type":"rule","strokeDash":[2,2],"color":"#808080","strokeWidth":1.3},"encoding":{"x":{"field":"year","type":"quantitative","axis":null}}},
 {"transform":[{"filter":"test(/^(CanESM2|MIROC5)/, datum.series)"}],"mark":{"type":"line","strokeWidth":2},"encoding":{
   "x":{"field":"year","type":"quantitative","scale":{"domain":[1980,2100],"nice":false},"axis":{"orient":"bottom","values":[1980,1990,2000,2010,2020,2030,2040,2050,2060,2070,2080,2090,2100],"labels":false,"grid":false,"title":null}},
   "y":{"field":"vol","type":"quantitative","scale":{"domain":[0,22.5],"nice":false},"axis":{"orient":"left","values":[0,5,10,15,20],"grid":true,"title":"Vol. (km³)","titleX":-36,"titleY":85.5}},
   "color":{"field":"series","type":"nominal","scale":{"domain":["CanESM2-historical","CanESM2-rcp45","CanESM2-rcp85","MIROC5-historical","MIROC5-rcp45","MIROC5-rcp85"],"range":["#ff0000","#ff8080","#c80000","#00e600","#80f080","#009600"]},"legend":{"legendX":-38,"legendY":611,"columns":6,"columnPadding":36,"encode":{"symbols":{"update":{"strokeDash":{"signal":"test(/historical/, datum.value) ? [7,5] : [1,0]"}}}}}},
   "strokeDash":{"field":"series","type":"nominal","scale":{"domain":["CanESM2-historical","CanESM2-rcp45","CanESM2-rcp85","MIROC5-historical","MIROC5-rcp45","MIROC5-rcp85","NorESM1-historical","NorESM1-rcp45","NorESM1-rcp85","ERA-Interim"],"range":[[10,6],[1,0],[1,0],[10,6],[1,0],[1,0],[10,6],[1,0],[1,0],[1,0]]},"legend":null}}},
 {"transform":[{"filter":"!test(/^(CanESM2|MIROC5)/, datum.series)"}],"mark":{"type":"line","strokeWidth":2},"encoding":{
   "x":{"field":"year","type":"quantitative","axis":{"orient":"top","values":[1980,1990,2000,2010,2020,2030,2040,2050,2060,2070,2080,2090,2100],"labels":false,"grid":false,"title":null}},
   "y":{"field":"vol","type":"quantitative","axis":{"orient":"right","values":[0,5,10,15,20],"labels":false,"grid":false,"title":null}},
   "stroke":{"field":"series","type":"nominal","scale":{"domain":["NorESM1-historical","NorESM1-rcp45","NorESM1-rcp85","ERA-Interim"],"range":["#0000ff","#8080ff","#0000c8","#000000"]},"legend":{"legendX":194,"legendY":643,"columns":4,"columnPadding":24,"encode":{"symbols":{"update":{"strokeDash":{"signal":"test(/historical/, datum.value) ? [7,5] : [1,0]"}}}}}},
   "strokeDash":{"field":"series","type":"nominal","legend":null}}},
 {"transform":[{"filter":"test(/^(CanESM2|MIROC5)/, datum.series) && !test(/historical/, datum.series)"}],"mark":{"type":"circle","size":12,"opacity":1},"encoding":{
   "x":{"field":"year","type":"quantitative","axis":null},"y":{"field":"vol","type":"quantitative","axis":null},
   "color":{"field":"series","type":"nominal","legend":null}}},
 {"transform":[{"filter":"!test(/^(CanESM2|MIROC5)/, datum.series) && !test(/historical/, datum.series)"}],"mark":{"type":"circle","size":12,"opacity":1},"encoding":{
   "x":{"field":"year","type":"quantitative","axis":null},"y":{"field":"vol","type":"quantitative","axis":null},
   "fill":{"field":"series","type":"nominal","scale":{"domain":["NorESM1-historical","NorESM1-rcp45","NorESM1-rcp85","ERA-Interim"],"range":["#0000ff","#8080ff","#0000c8","#000000"]},"legend":null}}}
]},
{"width":317,"height":171,"data":{"name":"N"},"title":{"text":"N"},"resolve":{"axis":{"x":"independent","y":"independent"}},"layer":[
 {"data":{"name":"ref"},"mark":{"type":"rule","strokeDash":[2,2],"color":"#808080","strokeWidth":1.3},"encoding":{"x":{"field":"year","type":"quantitative","axis":null}}},
 {"transform":[{"filter":"test(/^(CanESM2|MIROC5)/, datum.series)"}],"mark":{"type":"line","strokeWidth":2},"encoding":{
   "x":{"field":"year","type":"quantitative","scale":{"domain":[1980,2100],"nice":false},"axis":{"orient":"bottom","values":[1980,1990,2000,2010,2020,2030,2040,2050,2060,2070,2080,2090,2100],"labels":false,"grid":false,"title":null}},
   "y":{"field":"vol","type":"quantitative","scale":{"domain":[0,6],"nice":false},"axis":{"orient":"left","values":[0,2,4,6],"grid":true,"title":null}},
   "color":{"field":"series","type":"nominal","legend":null},
   "strokeDash":{"field":"series","type":"nominal","legend":null}}},
 {"transform":[{"filter":"!test(/^(CanESM2|MIROC5)/, datum.series)"}],"mark":{"type":"line","strokeWidth":2},"encoding":{
   "x":{"field":"year","type":"quantitative","axis":{"orient":"top","values":[1980,1990,2000,2010,2020,2030,2040,2050,2060,2070,2080,2090,2100],"labels":false,"grid":false,"title":null}},
   "y":{"field":"vol","type":"quantitative","axis":{"orient":"right","values":[0,2,4,6],"labels":false,"grid":false,"title":null}},
   "stroke":{"field":"series","type":"nominal","legend":null},
   "strokeDash":{"field":"series","type":"nominal","legend":null}}},
 {"transform":[{"filter":"test(/^(CanESM2|MIROC5)/, datum.series) && !test(/historical/, datum.series)"}],"mark":{"type":"circle","size":12,"opacity":1},"encoding":{
   "x":{"field":"year","type":"quantitative","axis":null},"y":{"field":"vol","type":"quantitative","axis":null},
   "color":{"field":"series","type":"nominal","legend":null}}},
 {"transform":[{"filter":"!test(/^(CanESM2|MIROC5)/, datum.series) && !test(/historical/, datum.series)"}],"mark":{"type":"circle","size":12,"opacity":1},"encoding":{
   "x":{"field":"year","type":"quantitative","axis":null},"y":{"field":"vol","type":"quantitative","axis":null},
   "fill":{"field":"series","type":"nominal","legend":null}}}
]},
{"width":317,"height":171,"data":{"name":"NE"},"title":{"text":"NE"},"resolve":{"axis":{"x":"independent","y":"independent"}},"layer":[
 {"data":{"name":"ref"},"mark":{"type":"rule","strokeDash":[2,2],"color":"#808080","strokeWidth":1.3},"encoding":{"x":{"field":"year","type":"quantitative","axis":null}}},
 {"transform":[{"filter":"test(/^(CanESM2|MIROC5)/, datum.series)"}],"mark":{"type":"line","strokeWidth":2},"encoding":{
   "x":{"field":"year","type":"quantitative","scale":{"domain":[1980,2100],"nice":false},"axis":{"orient":"bottom","values":[1980,1990,2000,2010,2020,2030,2040,2050,2060,2070,2080,2090,2100],"labels":false,"grid":false,"title":null}},
   "y":{"field":"vol","type":"quantitative","scale":{"domain":[0,6],"nice":false},"axis":{"orient":"left","values":[0,2,4,6],"grid":true,"title":null}},
   "color":{"field":"series","type":"nominal","legend":null},
   "strokeDash":{"field":"series","type":"nominal","legend":null}}},
 {"transform":[{"filter":"!test(/^(CanESM2|MIROC5)/, datum.series)"}],"mark":{"type":"line","strokeWidth":2},"encoding":{
   "x":{"field":"year","type":"quantitative","axis":{"orient":"top","values":[1980,1990,2000,2010,2020,2030,2040,2050,2060,2070,2080,2090,2100],"labels":false,"grid":false,"title":null}},
   "y":{"field":"vol","type":"quantitative","axis":{"orient":"right","values":[0,2,4,6],"labels":false,"grid":false,"title":null}},
   "stroke":{"field":"series","type":"nominal","legend":null},
   "strokeDash":{"field":"series","type":"nominal","legend":null}}},
 {"transform":[{"filter":"test(/^(CanESM2|MIROC5)/, datum.series) && !test(/historical/, datum.series)"}],"mark":{"type":"circle","size":12,"opacity":1},"encoding":{
   "x":{"field":"year","type":"quantitative","axis":null},"y":{"field":"vol","type":"quantitative","axis":null},
   "color":{"field":"series","type":"nominal","legend":null}}},
 {"transform":[{"filter":"!test(/^(CanESM2|MIROC5)/, datum.series) && !test(/historical/, datum.series)"}],"mark":{"type":"circle","size":12,"opacity":1},"encoding":{
   "x":{"field":"year","type":"quantitative","axis":null},"y":{"field":"vol","type":"quantitative","axis":null},
   "fill":{"field":"series","type":"nominal","legend":null}}}
]},
{"width":317,"height":171,"data":{"name":"E"},"title":{"text":"E"},"resolve":{"axis":{"x":"independent","y":"independent"}},"layer":[
 {"data":{"name":"ref"},"mark":{"type":"rule","strokeDash":[2,2],"color":"#808080","strokeWidth":1.3},"encoding":{"x":{"field":"year","type":"quantitative","axis":null}}},
 {"transform":[{"filter":"test(/^(CanESM2|MIROC5)/, datum.series)"}],"mark":{"type":"line","strokeWidth":2},"encoding":{
   "x":{"field":"year","type":"quantitative","scale":{"domain":[1980,2100],"nice":false},"axis":{"orient":"bottom","values":[1980,1990,2000,2010,2020,2030,2040,2050,2060,2070,2080,2090,2100],"labels":false,"grid":false,"title":null}},
   "y":{"field":"vol","type":"quantitative","scale":{"domain":[0,6],"nice":false},"axis":{"orient":"left","values":[0,2,4,6],"grid":true,"title":"Vol. (km³)","titleX":-36,"titleY":85.5}},
   "color":{"field":"series","type":"nominal","legend":null},
   "strokeDash":{"field":"series","type":"nominal","legend":null}}},
 {"transform":[{"filter":"!test(/^(CanESM2|MIROC5)/, datum.series)"}],"mark":{"type":"line","strokeWidth":2},"encoding":{
   "x":{"field":"year","type":"quantitative","axis":{"orient":"top","values":[1980,1990,2000,2010,2020,2030,2040,2050,2060,2070,2080,2090,2100],"labels":false,"grid":false,"title":null}},
   "y":{"field":"vol","type":"quantitative","axis":{"orient":"right","values":[0,2,4,6],"labels":false,"grid":false,"title":null}},
   "stroke":{"field":"series","type":"nominal","legend":null},
   "strokeDash":{"field":"series","type":"nominal","legend":null}}},
 {"transform":[{"filter":"test(/^(CanESM2|MIROC5)/, datum.series) && !test(/historical/, datum.series)"}],"mark":{"type":"circle","size":12,"opacity":1},"encoding":{
   "x":{"field":"year","type":"quantitative","axis":null},"y":{"field":"vol","type":"quantitative","axis":null},
   "color":{"field":"series","type":"nominal","legend":null}}},
 {"transform":[{"filter":"!test(/^(CanESM2|MIROC5)/, datum.series) && !test(/historical/, datum.series)"}],"mark":{"type":"circle","size":12,"opacity":1},"encoding":{
   "x":{"field":"year","type":"quantitative","axis":null},"y":{"field":"vol","type":"quantitative","axis":null},
   "fill":{"field":"series","type":"nominal","legend":null}}}
]},
{"width":317,"height":171,"data":{"name":"SE"},"title":{"text":"SE"},"resolve":{"axis":{"x":"independent","y":"independent"}},"layer":[
 {"data":{"name":"ref"},"mark":{"type":"rule","strokeDash":[2,2],"color":"#808080","strokeWidth":1.3},"encoding":{"x":{"field":"year","type":"quantitative","axis":null}}},
 {"transform":[{"filter":"test(/^(CanESM2|MIROC5)/, datum.series)"}],"mark":{"type":"line","strokeWidth":2},"encoding":{
   "x":{"field":"year","type":"quantitative","scale":{"domain":[1980,2100],"nice":false},"axis":{"orient":"bottom","values":[1980,1990,2000,2010,2020,2030,2040,2050,2060,2070,2080,2090,2100],"labels":false,"grid":false,"title":null}},
   "y":{"field":"vol","type":"quantitative","scale":{"domain":[0,6],"nice":false},"axis":{"orient":"left","values":[0,2,4,6],"grid":true,"title":null}},
   "color":{"field":"series","type":"nominal","legend":null},
   "strokeDash":{"field":"series","type":"nominal","legend":null}}},
 {"transform":[{"filter":"!test(/^(CanESM2|MIROC5)/, datum.series)"}],"mark":{"type":"line","strokeWidth":2},"encoding":{
   "x":{"field":"year","type":"quantitative","axis":{"orient":"top","values":[1980,1990,2000,2010,2020,2030,2040,2050,2060,2070,2080,2090,2100],"labels":false,"grid":false,"title":null}},
   "y":{"field":"vol","type":"quantitative","axis":{"orient":"right","values":[0,2,4,6],"labels":false,"grid":false,"title":null}},
   "stroke":{"field":"series","type":"nominal","legend":null},
   "strokeDash":{"field":"series","type":"nominal","legend":null}}},
 {"transform":[{"filter":"test(/^(CanESM2|MIROC5)/, datum.series) && !test(/historical/, datum.series)"}],"mark":{"type":"circle","size":12,"opacity":1},"encoding":{
   "x":{"field":"year","type":"quantitative","axis":null},"y":{"field":"vol","type":"quantitative","axis":null},
   "color":{"field":"series","type":"nominal","legend":null}}},
 {"transform":[{"filter":"!test(/^(CanESM2|MIROC5)/, datum.series) && !test(/historical/, datum.series)"}],"mark":{"type":"circle","size":12,"opacity":1},"encoding":{
   "x":{"field":"year","type":"quantitative","axis":null},"y":{"field":"vol","type":"quantitative","axis":null},
   "fill":{"field":"series","type":"nominal","legend":null}}}
]},
{"width":317,"height":171,"data":{"name":"S"},"title":{"text":"S"},"resolve":{"axis":{"x":"independent","y":"independent"}},"layer":[
 {"data":{"name":"ref"},"mark":{"type":"rule","strokeDash":[2,2],"color":"#808080","strokeWidth":1.3},"encoding":{"x":{"field":"year","type":"quantitative","axis":null}}},
 {"transform":[{"filter":"test(/^(CanESM2|MIROC5)/, datum.series)"}],"mark":{"type":"line","strokeWidth":2},"encoding":{
   "x":{"field":"year","type":"quantitative","scale":{"domain":[1980,2100],"nice":false},"axis":{"orient":"bottom","values":[1980,1990,2000,2010,2020,2030,2040,2050,2060,2070,2080,2090,2100],"labels":false,"grid":false,"title":null}},
   "y":{"field":"vol","type":"quantitative","scale":{"domain":[0,6],"nice":false},"axis":{"orient":"left","values":[0,2,4,6],"grid":true,"title":null}},
   "color":{"field":"series","type":"nominal","legend":null},
   "strokeDash":{"field":"series","type":"nominal","legend":null}}},
 {"transform":[{"filter":"!test(/^(CanESM2|MIROC5)/, datum.series)"}],"mark":{"type":"line","strokeWidth":2},"encoding":{
   "x":{"field":"year","type":"quantitative","axis":{"orient":"top","values":[1980,1990,2000,2010,2020,2030,2040,2050,2060,2070,2080,2090,2100],"labels":false,"grid":false,"title":null}},
   "y":{"field":"vol","type":"quantitative","axis":{"orient":"right","values":[0,2,4,6],"labels":false,"grid":false,"title":null}},
   "stroke":{"field":"series","type":"nominal","legend":null},
   "strokeDash":{"field":"series","type":"nominal","legend":null}}},
 {"transform":[{"filter":"test(/^(CanESM2|MIROC5)/, datum.series) && !test(/historical/, datum.series)"}],"mark":{"type":"circle","size":12,"opacity":1},"encoding":{
   "x":{"field":"year","type":"quantitative","axis":null},"y":{"field":"vol","type":"quantitative","axis":null},
   "color":{"field":"series","type":"nominal","legend":null}}},
 {"transform":[{"filter":"!test(/^(CanESM2|MIROC5)/, datum.series) && !test(/historical/, datum.series)"}],"mark":{"type":"circle","size":12,"opacity":1},"encoding":{
   "x":{"field":"year","type":"quantitative","axis":null},"y":{"field":"vol","type":"quantitative","axis":null},
   "fill":{"field":"series","type":"nominal","legend":null}}}
]},
{"width":317,"height":171,"data":{"name":"SW"},"title":{"text":"SW"},"resolve":{"axis":{"x":"independent","y":"independent"}},"layer":[
 {"data":{"name":"ref"},"mark":{"type":"rule","strokeDash":[2,2],"color":"#808080","strokeWidth":1.3},"encoding":{"x":{"field":"year","type":"quantitative","axis":null}}},
 {"transform":[{"filter":"test(/^(CanESM2|MIROC5)/, datum.series)"}],"mark":{"type":"line","strokeWidth":2},"encoding":{
   "x":{"field":"year","type":"quantitative","scale":{"domain":[1980,2100],"nice":false},"axis":{"orient":"bottom","values":[1980,1990,2000,2010,2020,2030,2040,2050,2060,2070,2080,2090,2100],"format":"d","labelExpr":"datum.value == 1980 || datum.value == 2010 || datum.value == 2050 || datum.value == 2100 ? datum.label : ''","labelFlush":false,"labelOverlap":false,"grid":false,"title":null}},
   "y":{"field":"vol","type":"quantitative","scale":{"domain":[0,6],"nice":false},"axis":{"orient":"left","values":[0,2,4,6],"grid":true,"title":"Vol. (km³)","titleX":-36,"titleY":85.5}},
   "color":{"field":"series","type":"nominal","legend":null},
   "strokeDash":{"field":"series","type":"nominal","legend":null}}},
 {"transform":[{"filter":"!test(/^(CanESM2|MIROC5)/, datum.series)"}],"mark":{"type":"line","strokeWidth":2},"encoding":{
   "x":{"field":"year","type":"quantitative","axis":{"orient":"top","values":[1980,1990,2000,2010,2020,2030,2040,2050,2060,2070,2080,2090,2100],"labels":false,"grid":false,"title":null}},
   "y":{"field":"vol","type":"quantitative","axis":{"orient":"right","values":[0,2,4,6],"labels":false,"grid":false,"title":null}},
   "stroke":{"field":"series","type":"nominal","legend":null},
   "strokeDash":{"field":"series","type":"nominal","legend":null}}},
 {"transform":[{"filter":"test(/^(CanESM2|MIROC5)/, datum.series) && !test(/historical/, datum.series)"}],"mark":{"type":"circle","size":12,"opacity":1},"encoding":{
   "x":{"field":"year","type":"quantitative","axis":null},"y":{"field":"vol","type":"quantitative","axis":null},
   "color":{"field":"series","type":"nominal","legend":null}}},
 {"transform":[{"filter":"!test(/^(CanESM2|MIROC5)/, datum.series) && !test(/historical/, datum.series)"}],"mark":{"type":"circle","size":12,"opacity":1},"encoding":{
   "x":{"field":"year","type":"quantitative","axis":null},"y":{"field":"vol","type":"quantitative","axis":null},
   "fill":{"field":"series","type":"nominal","legend":null}}}
]},
{"width":317,"height":171,"data":{"name":"W"},"title":{"text":"W"},"resolve":{"axis":{"x":"independent","y":"independent"}},"layer":[
 {"data":{"name":"ref"},"mark":{"type":"rule","strokeDash":[2,2],"color":"#808080","strokeWidth":1.3},"encoding":{"x":{"field":"year","type":"quantitative","axis":null}}},
 {"transform":[{"filter":"test(/^(CanESM2|MIROC5)/, datum.series)"}],"mark":{"type":"line","strokeWidth":2},"encoding":{
   "x":{"field":"year","type":"quantitative","scale":{"domain":[1980,2100],"nice":false},"axis":{"orient":"bottom","values":[1980,1990,2000,2010,2020,2030,2040,2050,2060,2070,2080,2090,2100],"format":"d","labelExpr":"datum.value == 1980 || datum.value == 2010 || datum.value == 2050 || datum.value == 2100 ? datum.label : ''","labelFlush":false,"labelOverlap":false,"grid":false,"title":null}},
   "y":{"field":"vol","type":"quantitative","scale":{"domain":[0,6],"nice":false},"axis":{"orient":"left","values":[0,2,4,6],"grid":true,"title":null}},
   "color":{"field":"series","type":"nominal","legend":null},
   "strokeDash":{"field":"series","type":"nominal","legend":null}}},
 {"transform":[{"filter":"!test(/^(CanESM2|MIROC5)/, datum.series)"}],"mark":{"type":"line","strokeWidth":2},"encoding":{
   "x":{"field":"year","type":"quantitative","axis":{"orient":"top","values":[1980,1990,2000,2010,2020,2030,2040,2050,2060,2070,2080,2090,2100],"labels":false,"grid":false,"title":null}},
   "y":{"field":"vol","type":"quantitative","axis":{"orient":"right","values":[0,2,4,6],"labels":false,"grid":false,"title":null}},
   "stroke":{"field":"series","type":"nominal","legend":null},
   "strokeDash":{"field":"series","type":"nominal","legend":null}}},
 {"transform":[{"filter":"test(/^(CanESM2|MIROC5)/, datum.series) && !test(/historical/, datum.series)"}],"mark":{"type":"circle","size":12,"opacity":1},"encoding":{
   "x":{"field":"year","type":"quantitative","axis":null},"y":{"field":"vol","type":"quantitative","axis":null},
   "color":{"field":"series","type":"nominal","legend":null}}},
 {"transform":[{"filter":"!test(/^(CanESM2|MIROC5)/, datum.series) && !test(/historical/, datum.series)"}],"mark":{"type":"circle","size":12,"opacity":1},"encoding":{
   "x":{"field":"year","type":"quantitative","axis":null},"y":{"field":"vol","type":"quantitative","axis":null},
   "fill":{"field":"series","type":"nominal","legend":null}}}
]},
{"width":317,"height":171,"data":{"name":"NW"},"title":{"text":"NW"},"resolve":{"axis":{"x":"independent","y":"independent"}},"layer":[
 {"data":{"name":"ref"},"mark":{"type":"rule","strokeDash":[2,2],"color":"#808080","strokeWidth":1.3},"encoding":{"x":{"field":"year","type":"quantitative","axis":null}}},
 {"transform":[{"filter":"test(/^(CanESM2|MIROC5)/, datum.series)"}],"mark":{"type":"line","strokeWidth":2},"encoding":{
   "x":{"field":"year","type":"quantitative","scale":{"domain":[1980,2100],"nice":false},"axis":{"orient":"bottom","values":[1980,1990,2000,2010,2020,2030,2040,2050,2060,2070,2080,2090,2100],"format":"d","labelExpr":"datum.value == 1980 || datum.value == 2010 || datum.value == 2050 || datum.value == 2100 ? datum.label : ''","labelFlush":false,"labelOverlap":false,"grid":false,"title":null}},
   "y":{"field":"vol","type":"quantitative","scale":{"domain":[0,6],"nice":false},"axis":{"orient":"left","values":[0,2,4,6],"grid":true,"title":null}},
   "color":{"field":"series","type":"nominal","legend":null},
   "strokeDash":{"field":"series","type":"nominal","legend":null}}},
 {"transform":[{"filter":"!test(/^(CanESM2|MIROC5)/, datum.series)"}],"mark":{"type":"line","strokeWidth":2},"encoding":{
   "x":{"field":"year","type":"quantitative","axis":{"orient":"top","values":[1980,1990,2000,2010,2020,2030,2040,2050,2060,2070,2080,2090,2100],"labels":false,"grid":false,"title":null}},
   "y":{"field":"vol","type":"quantitative","axis":{"orient":"right","values":[0,2,4,6],"labels":false,"grid":false,"title":null}},
   "stroke":{"field":"series","type":"nominal","legend":null},
   "strokeDash":{"field":"series","type":"nominal","legend":null}}},
 {"transform":[{"filter":"test(/^(CanESM2|MIROC5)/, datum.series) && !test(/historical/, datum.series)"}],"mark":{"type":"circle","size":12,"opacity":1},"encoding":{
   "x":{"field":"year","type":"quantitative","axis":null},"y":{"field":"vol","type":"quantitative","axis":null},
   "color":{"field":"series","type":"nominal","legend":null}}},
 {"transform":[{"filter":"!test(/^(CanESM2|MIROC5)/, datum.series) && !test(/historical/, datum.series)"}],"mark":{"type":"circle","size":12,"opacity":1},"encoding":{
   "x":{"field":"year","type":"quantitative","axis":null},"y":{"field":"vol","type":"quantitative","axis":null},
   "fill":{"field":"series","type":"nominal","legend":null}}}
]}
]
}
